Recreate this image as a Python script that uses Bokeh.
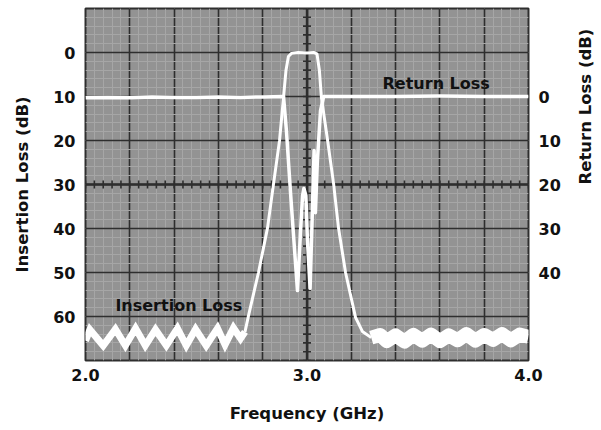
import math
import numpy as np
from bokeh.plotting import figure
from bokeh.models import Range1d, LinearAxis, FixedTicker, Label, NumeralTickFormatter
from bokeh.embed import file_html
from bokeh.resources import INLINE

# ---------------- data ----------------
# Insertion loss (dB, left axis) vs frequency (GHz)
il_noise_left_freq = [2.000, 2.020, 2.080, 2.135, 2.180, 2.226, 2.270, 2.316, 2.365,
                      2.415, 2.455, 2.497, 2.545, 2.596, 2.630, 2.668, 2.700, 2.720]
il_noise_left_db = [65.5, 63.0, 66.6, 62.9, 66.6, 62.7, 66.6, 63.0, 66.6,
                    62.7, 66.6, 62.9, 66.6, 62.7, 66.4, 62.6, 65.0, 63.5]

il_filter_freq = [2.720, 2.736, 2.781, 2.822, 2.849, 2.876, 2.894, 2.905, 2.916, 2.930,
                  2.960, 3.000, 3.030, 3.045, 3.056, 3.065, 3.093, 3.120, 3.142, 3.174,
                  3.219, 3.250, 3.290]
il_filter_db = [63.5, 59.8, 50.0, 39.8, 29.8, 20.0, 10.2, 4.1, 0.9, 0.2,
                0.0, 0.1, 0.0, 0.3, 4.1, 10.2, 20.0, 29.8, 39.8, 50.0,
                60.2, 63.4, 64.8]

il_noise_right_freq = [3.290, 3.330, 3.360, 3.400, 3.440, 3.480, 3.520, 3.560, 3.600,
                       3.640, 3.680, 3.720, 3.760, 3.800, 3.840, 3.880, 3.920, 3.960, 4.000]
il_noise_right_db = [64.8, 64.2, 65.6, 64.3, 65.7, 64.2, 65.5, 64.1, 65.6,
                     64.3, 65.4, 64.0, 65.5, 64.2, 65.3, 64.0, 65.4, 64.1, 64.6]

# Return loss (dB, right axis) vs frequency (GHz)
rl_freq = [2.000, 2.100, 2.200, 2.300, 2.400, 2.500, 2.600, 2.700, 2.800, 2.894,
           2.907, 2.925, 2.944, 2.957, 2.971, 2.980, 2.986, 2.995, 3.002, 3.014,
           3.023, 3.032, 3.038, 3.047, 3.061, 3.075, 3.200, 3.400, 3.600, 3.800, 4.000]
rl_db = [0.3, 0.2, 0.3, 0.1, 0.2, 0.2, 0.1, 0.2, 0.1, 0.0,
         7.7, 21.4, 35.0, 44.1, 30.5, 22.5, 20.9, 22.5, 32.7, 43.6,
         28.2, 12.3, 26.4, 14.5, 3.2, 0.0, 0.0, 0.0, -0.1, 0.0, 0.0]

x_ticks = [2.0, 3.0, 4.0]
il_ticks = [0, 10, 20, 30, 40, 50, 60]
rl_ticks = [0, 10, 20, 30, 40]

# ---------------- figure ----------------
FONT = "DejaVu Sans"
BG = "#939393"
GRID = "#2e2e2e"

p = figure(frame_width=443, frame_height=352, output_backend="svg", toolbar_location=None,
           x_range=Range1d(2.0, 4.0), y_range=Range1d(70, -10),
           min_border_left=85, min_border_right=73, min_border_top=8, min_border_bottom=70)
p.background_fill_color = BG
p.border_fill_color = "white"
p.outline_line_color = GRID
p.outline_line_width = 2

# graticule
p.xgrid.ticker = FixedTicker(ticks=list(np.round(np.arange(2.0, 4.01, 0.2), 2)),
                             minor_ticks=list(np.round(np.arange(2.0, 4.01, 0.04), 3)))
p.ygrid.ticker = FixedTicker(ticks=list(range(-10, 71, 10)),
                             minor_ticks=list(range(-10, 71, 2)))
for g in (p.xgrid, p.ygrid):
    g.grid_line_color = GRID
    g.grid_line_width = 1.6
    g.minor_grid_line_color = "#a6a6a6"
    g.minor_grid_line_width = 1

# centre cross lines with small division ticks
p.line([3.0, 3.0], [-10, 70], line_color=GRID, line_width=2.4)
p.line([2.0, 4.0], [30, 30], line_color=GRID, line_width=2.4)
vt = np.arange(-10, 70.01, 2)
p.scatter(np.full(len(vt), 3.0), vt, marker="dash", size=8, line_color=GRID, line_width=1.6)
ht = np.arange(2.0, 4.001, 0.04)
p.scatter(ht, np.full(len(ht), 30.0), marker="dash", size=8, angle=math.pi / 2,
          line_color=GRID, line_width=1.6)

# traces
p.extra_y_ranges = {"rl": Range1d(60, -20)}
p.line(rl_freq, rl_db, y_range_name="rl", line_color="white", line_width=3.5,
       line_join="round")
p.line(il_filter_freq, il_filter_db, line_color="white", line_width=3, line_join="round")
p.line(il_noise_left_freq, il_noise_left_db, line_color="white", line_width=7,
       line_join="miter")
p.line(il_noise_right_freq, il_noise_right_db, line_color="white", line_width=14,
       line_join="round")

# axes
def style_axis(ax, tick_size="16px", label_size="16.5px"):
    ax.axis_line_color = None
    ax.major_tick_line_color = None
    ax.minor_tick_line_color = None
    ax.major_tick_in = 0
    ax.major_tick_out = 0
    ax.minor_tick_in = 0
    ax.minor_tick_out = 0
    ax.major_label_text_font = FONT
    ax.major_label_text_font_style = "bold"
    ax.major_label_text_font_size = tick_size
    ax.major_label_text_color = "#111111"
    ax.axis_label_text_font = FONT
    ax.axis_label_text_font_style = "bold"
    ax.axis_label_text_font_size = label_size
    ax.axis_label_text_color = "#111111"

xa = p.xaxis[0]
style_axis(xa)
xa.ticker = FixedTicker(ticks=x_ticks)
xa.formatter = NumeralTickFormatter(format="0.0")
xa.major_label_standoff = 8
xa.axis_label = "Frequency (GHz)"
xa.axis_label_standoff = 20

ya = p.yaxis[0]
style_axis(ya)
ya.ticker = FixedTicker(ticks=il_ticks)
ya.major_label_standoff = 10
ya.axis_label = "Insertion Loss (dB)"
ya.axis_label_standoff = 18

ra = LinearAxis(y_range_name="rl")
style_axis(ra)
ra.ticker = FixedTicker(ticks=rl_ticks)
ra.major_label_standoff = 10
ra.axis_label = "Return Loss (dB)"
ra.axis_label_standoff = 22
ra.axis_label_orientation = math.pi / 2
p.add_layout(ra, "right")

# in-plot labels
for txt, fx, fy in (("Return Loss", 3.341, 7.0), ("Insertion Loss", 2.135, 57.4)):
    p.add_layout(Label(x=fx, y=fy, text=txt, text_font=FONT, text_font_style="bold",
                       text_font_size="16px", text_color="#111111",
                       text_baseline="middle", text_align="left"))

open("out.html", "w").write(file_html(p, INLINE))
